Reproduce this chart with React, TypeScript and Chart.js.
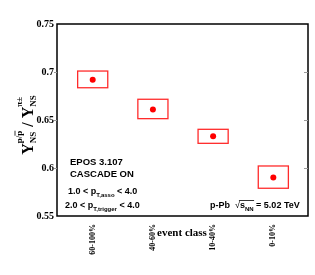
import React, { useEffect, useRef } from "react";
import Chart from "chart.js/auto";

const categories = ["60-100%", "40-60%", "10-40%", "0-10%"];
const ratio = [0.692, 0.661, 0.633, 0.590];
const sysLow = [0.6836, 0.6514, 0.6257, 0.5789];
const sysHigh = [0.7010, 0.6716, 0.6403, 0.6021];
const yTicks = [0.55, 0.6, 0.65, 0.7, 0.75];
const innerTicks = [0.6, 0.65, 0.7];

const SERIF = "'Liberation Serif', 'Times New Roman', serif";
const SANS = "'Liberation Sans', Arial, sans-serif";

type Part = { t: string; size: number; dy?: number };

function drawParts(ctx: CanvasRenderingContext2D, parts: Part[], x: number, y: number, family: string) {
  let cx = x;
  for (const p of parts) {
    ctx.font = `bold ${p.size}px ${family}`;
    ctx.fillText(p.t, cx, y + (p.dy || 0));
    cx += ctx.measureText(p.t).width;
  }
  return cx;
}

const decorPlugin = {
  id: "decor",
  beforeDatasetsDraw(chart: any) {
    const { ctx, scales } = chart;
    const x = scales.x, y = scales.y;
    ctx.save();
    ctx.strokeStyle = "rgba(255,20,20,0.9)";
    ctx.lineWidth = 1.3;
    ratio.forEach((_v, i) => {
      const x0 = x.getPixelForValue(i - 0.25);
      const x1 = x.getPixelForValue(i + 0.25);
      const y0 = y.getPixelForValue(sysHigh[i]);
      const y1 = y.getPixelForValue(sysLow[i]);
      ctx.strokeRect(x0, y0, x1 - x0, y1 - y0);
    });
    ctx.restore();
  },
  afterDraw(chart: any) {
    const { ctx, chartArea: a, scales } = chart;
    const y = scales.y;
    ctx.save();
    // frame
    ctx.strokeStyle = "#000";
    ctx.lineWidth = 1.5;
    ctx.strokeRect(a.left, a.top, a.right - a.left, a.bottom - a.top);
    // ticks
    ctx.strokeStyle = "#999";
    ctx.lineWidth = 1;
    innerTicks.forEach((v) => {
      const py = Math.round(y.getPixelForValue(v)) + 0.5;
      ctx.beginPath();
      ctx.moveTo(a.left - 3, py);
      ctx.lineTo(a.left, py);
      ctx.moveTo(a.right - 4, py);
      ctx.lineTo(a.right, py);
      ctx.stroke();
    });

    ctx.fillStyle = "#000";
    ctx.textBaseline = "alphabetic";
    ctx.textAlign = "left";

    // x-axis title
    ctx.font = `bold 11px ${SERIF}`;
    ctx.textAlign = "center";
    ctx.fillText("event class", 182, 236);
    ctx.textAlign = "left";

    // annotations
    ctx.font = `bold 9.5px ${SANS}`;
    ctx.fillText("EPOS 3.107", 70, 164.5);
    ctx.fillText("CASCADE ON", 70, 176.5);
    drawParts(ctx, [
      { t: "1.0 < p", size: 9 },
      { t: "T,asso", size: 6, dy: 2.5 },
      { t: " < 4.0", size: 9 },
    ], 68, 194, SANS);
    drawParts(ctx, [
      { t: "2.0 < p", size: 9 },
      { t: "T,trigger", size: 6, dy: 2.5 },
      { t: " < 4.0", size: 9 },
    ], 65, 208, SANS);

    // p-Pb sqrt(s_NN)
    let cx = drawParts(ctx, [{ t: "p-Pb  ", size: 9 }], 210, 208, SANS);
    ctx.font = `9px ${SANS}`;
    ctx.fillText("\u221A", cx, 208);
    cx += ctx.measureText("\u221A").width;
    const sStart = cx;
    cx = drawParts(ctx, [{ t: "s", size: 9 }, { t: "NN", size: 6, dy: 2.5 }], cx, 208, SANS);
    ctx.strokeStyle = "#000";
    ctx.lineWidth = 0.8;
    ctx.beginPath();
    ctx.moveTo(sStart - 1, 200.5);
    ctx.lineTo(cx + 0.5, 200.5);
    ctx.stroke();
    drawParts(ctx, [{ t: " = 5.02 TeV", size: 9 }], cx, 208, SANS);

    // y-axis title (rotated)
    const big = 16, small = 9;
    const supDy = -11, subDy = 3;
    ctx.font = `bold ${big}px ${SERIF}`;
    const wY = ctx.measureText("Y").width;
    const wSl = ctx.measureText(" / ").width;
    ctx.font = `bold ${small}px ${SERIF}`;
    const wSup1a = ctx.measureText("p/").width;
    const wSup1b = ctx.measureText("p").width;
    const wSup1 = wSup1a + wSup1b;
    const wNS = ctx.measureText("NS").width;
    const wSup2 = ctx.measureText("\u03C0\u00B1").width;
    const g1 = Math.max(wSup1, wNS);
    const g2 = Math.max(wSup2, wNS);
    const total = wY + g1 + wSl + wY + g2;
    ctx.translate(33, 125);
    ctx.rotate(-Math.PI / 2);
    let tx = -total / 2;
    ctx.font = `bold ${big}px ${SERIF}`;
    ctx.fillText("Y", tx, 0);
    tx += wY;
    ctx.font = `bold ${small}px ${SERIF}`;
    ctx.fillText("p/p", tx, supDy);
    ctx.lineWidth = 0.8;
    ctx.beginPath();
    ctx.moveTo(tx + wSup1a, supDy - 7);
    ctx.lineTo(tx + wSup1a + wSup1b, supDy - 7);
    ctx.stroke();
    ctx.fillText("NS", tx, subDy);
    tx += g1;
    ctx.font = `bold ${big}px ${SERIF}`;
    ctx.fillText(" / ", tx, 0);
    tx += wSl;
    ctx.fillText("Y", tx, 0);
    tx += wY;
    ctx.font = `bold ${small}px ${SERIF}`;
    ctx.fillText("\u03C0\u00B1", tx, supDy);
    ctx.fillText("NS", tx, subDy);
    ctx.restore();
  },
};

export default function App() {
  const ref = useRef<HTMLCanvasElement | null>(null);
  useEffect(() => {
    if (!ref.current) return;
    const chart = new Chart(ref.current, {
      type: "scatter",
      data: {
        datasets: [
          {
            data: ratio.map((v, i) => ({ x: i, y: v })),
            pointRadius: 3,
            pointBackgroundColor: "#ff0000",
            pointBorderWidth: 0,
            backgroundColor: "#ff0000",
            borderColor: "#ff0000",
          },
        ],
      },
      options: {
        animation: false,
        responsive: false,
        layout: { padding: { top: 24, right: 7, left: 0, bottom: 0 } },
        plugins: { legend: { display: false }, tooltip: { enabled: false } },
        scales: {
          x: {
            type: "linear",
            min: -0.593,
            max: 3.576,
            afterBuildTicks: (s: any) => {
              s.ticks = categories.map((_c, i) => ({ value: i }));
            },
            afterFit: (s: any) => {
              s.height = 59;
            },
            ticks: {
              callback: (v: any) => categories[v as number] ?? "",
              minRotation: 90,
              maxRotation: 90,
              autoSkip: false,
              padding: 8,
              color: "#000",
              font: { family: SERIF, size: 8, weight: "bold" },
            },
            grid: { display: false, drawTicks: false },
            border: { display: false },
          },
          y: {
            min: 0.55,
            max: 0.75,
            afterBuildTicks: (s: any) => {
              s.ticks = yTicks.map((v) => ({ value: v }));
            },
            afterFit: (s: any) => {
              s.width = 57;
            },
            ticks: {
              callback: (v: any) => String(Number((v as number).toFixed(2))),
              padding: 3,
              color: "#000",
              font: { family: SERIF, size: 10, weight: "bold" },
            },
            grid: { display: false, drawTicks: false },
            border: { display: false },
          },
        },
      } as any,
      plugins: [decorPlugin as any],
    });
    return () => chart.destroy();
  }, []);
  return (
    <div style={{ position: "fixed", left: 0, top: 0, width: 315, height: 275, background: "#fff" }}>
      <canvas ref={ref} width={315} height={275} style={{ width: 315, height: 275 }} />
    </div>
  );
}
